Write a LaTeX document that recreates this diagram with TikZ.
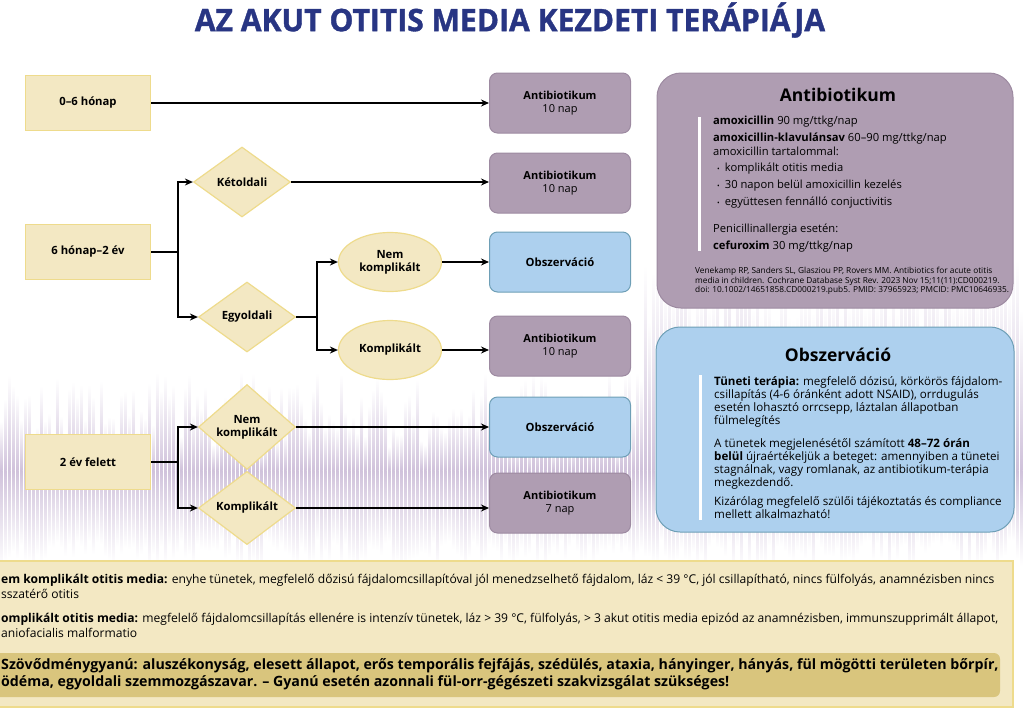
\documentclass[tikz,border=0pt]{standalone}
\usepackage{fontspec}
\setmainfont{Open Sans}
\newfontfamily\titlefont{Open Sans}[BoldFeatures = {FakeBold = 1.2}]
\usetikzlibrary{arrows.meta, positioning, shapes.geometric}
\definecolor{titleblue}{HTML}{283583}
\definecolor{ylwfill}{HTML}{F3E8C3}
\definecolor{ylwline}{HTML}{EEDB8C}
\definecolor{goldfill}{HTML}{D9C57D}
\definecolor{purpfill}{HTML}{AF9DB2}
\definecolor{purpline}{HTML}{9D8AA1}
\definecolor{bluefill}{HTML}{ADD0EE}
\definecolor{blueline}{HTML}{6E9FB6}
\definecolor{stripeA}{HTML}{D0C2DB}
\definecolor{stripeB}{HTML}{B0BCC9}
\tikzset{
  agebox/.style  = {rectangle, draw = ylwline, fill = ylwfill, line width = 1.5pt,
                    minimum width = 125pt, minimum height = 55pt,
                    font = \bfseries\fontsize{11.3}{14}\selectfont},
  choice/.style  = {diamond, draw = ylwline, fill = ylwfill, line width = 1.2pt,
                    minimum width = 97pt, minimum height = 70pt, inner sep = 0pt,
                    align = center, font = \bfseries\fontsize{11.3}{13}\selectfont},
  cond/.style    = {ellipse, draw = ylwline, fill = ylwfill, line width = 1.2pt,
                    minimum width = 103pt, minimum height = 59pt, inner sep = 0pt,
                    align = center, font = \bfseries\fontsize{11.3}{13}\selectfont},
  abox/.style    = {rectangle, rounded corners = 8pt, draw = purpline, fill = purpfill,
                    line width = 1pt, minimum width = 141pt, minimum height = 60pt,
                    align = center, font = \fontsize{11}{13}\selectfont},
  obox/.style    = {abox, draw = blueline, fill = bluefill},
  panel/.style   = {rectangle, rounded corners = 24pt, line width = 1pt},
  panelhead/.style = {font = \bfseries\fontsize{17.5}{20}\selectfont},
  paneltext/.style = {anchor = north west, inner sep = 0pt, align = left,
                      font = \fontsize{11.2}{14}\selectfont},
  reftext/.style = {anchor = north west, inner sep = 0pt, align = left,
                    font = \fontsize{8.3}{9.5}\selectfont},
  notetext/.style = {anchor = north west, inner sep = 0pt, align = left,
                     font = \fontsize{12.1}{15}\selectfont},
  link/.style    = {line width = 2pt},
  flow/.style    = {link, -{Stealth[length = 8pt, width = 7pt]}},
  boldflow/.style = {flow, line width = 2.8pt}
}

\begin{document}
\begin{tikzpicture}[x=1pt, y=-1pt]
  \useasboundingbox (0,0) rectangle (1024,715);

  % faded stripes in the background
  \pgfmathsetseed{11}
  \foreach \i in {0,...,255} {
    \pgfmathsetmacro{\xs}{4*\i}
    \pgfmathsetmacro{\yt}{(\xs > 640 ? 250 : 372) + 75*rnd}
    \pgfmathsetmacro{\yb}{540 + 30*rnd}
    \shade[top color = white, bottom color = stripeA] (\xs,\yt) rectangle (\xs+2.5,470);
    \shade[top color = stripeA, middle color = stripeB, bottom color = white]
      (\xs,470) rectangle (\xs+2.5,\yb);
  }

  % title
  \node (title) [text = titleblue, xscale = 0.97,
                 font = \titlefont\bfseries\fontsize{31}{31}\selectfont] at (510,20)
    {AZ AKUT OTITIS MEDIA KEZDETI TERÁPIÁJA};

  % age groups
  \node (age0) [agebox] at (88,103) {0–6 hónap};
  \node (age1) [agebox] at (88,252) {6 hónap–2 év};
  \node (age2) [agebox] at (88,462) {2 év felett};

  % decisions
  \node (bilat)  [choice] at (242,182) {Kétoldali};
  \node (unilat) [choice] at (247,317) {Egyoldali};
  \node (mild1)  [cond]   at (390,262) {Nem\\komplikált};
  \node (sev1)   [cond]   at (390,350) {Komplikált};
  \node (mild2)  [choice] at (247,427) {Nem\\komplikált};
  \node (sev2)   [choice] at (247,508) {Komplikált};

  % therapy boxes
  \node (ab1)  [abox] at (560,103) {\textbf{Antibiotikum}\\10 nap};
  \node (ab2)  [abox] at (560,183) {\textbf{Antibiotikum}\\10 nap};
  \node (obs1) [obox, font = \bfseries\fontsize{11.3}{13}\selectfont] at (560,262) {Obszerváció};
  \node (ab3)  [abox] at (560,346) {\textbf{Antibiotikum}\\10 nap};
  \node (obs2) [obox, font = \bfseries\fontsize{11.3}{13}\selectfont] at (560,427) {Obszerváció};
  \node (ab4)  [abox] at (560,503) {\textbf{Antibiotikum}\\7 nap};

  % connectors
  \draw[flow] (age0.east) -- (age0.east -| ab1.west);
  \draw[flow] (age1.east) -- ++(27,0) |- (bilat.west);
  \draw[flow] (age1.east) -- ++(27,0) |- (unilat.west);
  \draw[boldflow] (bilat.east) -- (bilat.east -| ab2.west);
  \draw[link, line width = 2.8pt] (unilat.east) -- ++(21,0);
  \draw[flow] (unilat.east) ++(21,0) |- (mild1.west);
  \draw[flow] (unilat.east) ++(21,0) |- (sev1.west);
  \draw[flow] (mild1.east) -- (mild1.east -| obs1.west);
  \draw[flow] (sev1.east) -- (sev1.east -| ab3.west);
  \draw[flow] (age2.east) -- ++(27,0) |- (mild2.west);
  \draw[flow] (age2.east) -- ++(27,0) |- (sev2.west);
  \draw[flow] (mild2.east) -- (mild2.east -| obs2.west);
  \draw[flow] (sev2.east) -- (sev2.east -| ab4.west);

  % antibiotic panel
  \node (abpanel) [panel, draw = purpline, fill = purpfill,
                   minimum width = 356pt, minimum height = 235pt] at (835,190.5) {};
  \node (abhead) [panelhead] at (838,95) {Antibiotikum};
  \fill[white] (698,117) rectangle (701,251);
  \node (abtext) [paneltext] at (713,116)
    {\textbf{amoxicillin} 90 mg/ttkg/nap\\[3pt]
     \textbf{amoxicillin-klavulánsav} 60–90 mg/ttkg/nap\\
     amoxicillin tartalommal:\\[2pt]
     \hspace*{4pt}{\fontsize{7}{7}\selectfont\textbullet}\hspace{5pt}komplikált otitis media\\[3pt]
     \hspace*{4pt}{\fontsize{7}{7}\selectfont\textbullet}\hspace{5pt}30 napon belül amoxicillin kezelés\\[3pt]
     \hspace*{4pt}{\fontsize{7}{7}\selectfont\textbullet}\hspace{5pt}együttesen fennálló conjuctivitis\\[13pt]
     Penicillinallergia esetén:\\[3pt]
     \textbf{cefuroxim} 30 mg/ttkg/nap};
  \node (abref) [reftext] at (695,267)
    {Venekamp RP, Sanders SL, Glasziou PP, Rovers MM. Antibiotics for acute otitis\\
     media in children. Cochrane Database Syst Rev. 2023 Nov 15;11(11):CD000219.\\
     doi: 10.1002/14651858.CD000219.pub5. PMID: 37965923; PMCID: PMC10646935.};

  % observation panel
  \node (obpanel) [panel, draw = blueline, fill = bluefill,
                   minimum width = 358pt, minimum height = 205pt] at (835,429.5) {};
  \node (obhead) [panelhead] at (838,355) {Obszerváció};
  \fill[white] (699,375) rectangle (702,520);
  \node (obtext) [paneltext, font = \fontsize{11.6}{13}\selectfont] at (714,376)
    {\textbf{Tüneti terápia:} megfelelő dózisú, körkörös fájdalom-\\
     csillapítás (4-6 óránként adott NSAID), orrdugulás\\
     esetén lohasztó orrcsepp, láztalan állapotban\\
     fülmelegítés\\[10pt]
     A tünetek megjelenésétől számított \textbf{48–72 órán}\\
     \textbf{belül} újraértékeljük a beteget: amennyiben a tünetei\\
     stagnálnak, vagy romlanak, az antibiotikum-terápia\\
     megkezdendő.\\[6pt]
     Kizárólag megfelelő szülői tájékoztatás és compliance\\
     mellett alkalmazható!};

  % notes at the bottom
  \draw[fill = ylwfill, draw = ylwline, line width = 1.5pt] (-5,561) rectangle (1013,707);
  \fill[goldfill, rounded corners = 6pt] (-10,653) rectangle (1000,697);
  \node (note1) [notetext] at (1,574)
    {\textbf{em komplikált otitis media:} enyhe tünetek, megfelelő dőzisú fájdalomcsillapítóval jól menedzselhető fájdalom, láz < 39 °C, jól csillapítható, nincs fülfolyás, anamnézisben nincs\\
     sszatérő otitis};
  \node (note2) [notetext] at (1,613)
    {\textbf{omplikált otitis media:} megfelelő fájdalomcsillapítás ellenére is intenzív tünetek, láz > 39 °C, fülfolyás, > 3 akut otitis media epizód az anamnézisben, immunszupprimált állapot,\\
     aniofacialis malformatio};
  \node (note3) [notetext, font = \bfseries\fontsize{14.2}{17}\selectfont] at (1,658)
    {Szövődménygyanú: aluszékonyság, elesett állapot, erős temporális fejfájás, szédülés, ataxia, hányinger, hányás, fül mögötti területen bőrpír,\\
     ödéma, egyoldali szemmozgászavar. – Gyanú esetén azonnali fül-orr-gégészeti szakvizsgálat szükséges!};
\end{tikzpicture}
\end{document}
